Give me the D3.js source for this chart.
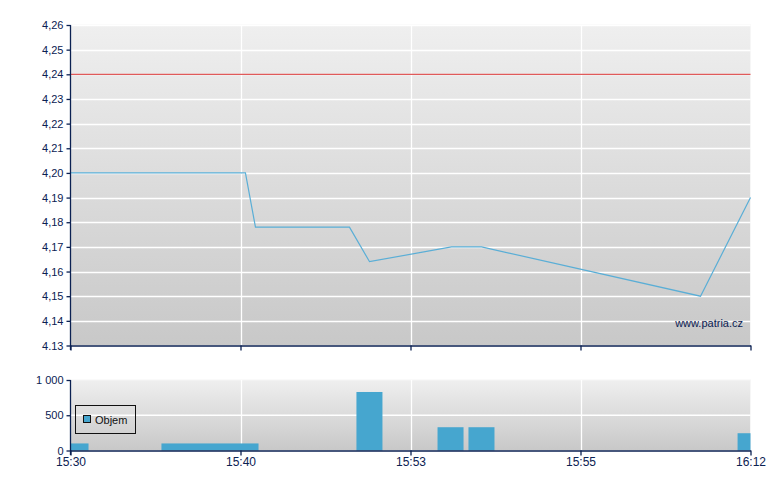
<!DOCTYPE html>
<html><head><meta charset="utf-8">
<script src="https://cdn.jsdelivr.net/npm/d3@7"></script>
<style>body{margin:0;background:#fff}svg{display:block;font-family:"Liberation Sans",Arial,sans-serif}</style>
</head><body><svg id="c" width="780" height="490"></svg>
<script>
// x positions are in "axis slot" units: tick i sits at i
const timeLabels = ["15:30","15:40","15:53","15:55","16:12"];
const priceTicks = [4.13,4.14,4.15,4.16,4.17,4.18,4.19,4.20,4.21,4.22,4.23,4.24,4.25,4.26];
const priceX = [0, 1.029, 1.088, 1.641, 1.759, 2.241, 2.418, 3.706, 4];
const priceY = [4.20, 4.20, 4.178, 4.178, 4.164, 4.17, 4.17, 4.15, 4.19];
const refPrice = 4.24;
const volStart = [0, 0.535, 1.682, 2.159, 2.341, 3.924];
const volEnd   = [0.106, 1.106, 1.835, 2.312, 2.494, 4];
const volume   = [100, 100, 830, 330, 330, 245];
const volTicks = [0, 500, 1000];

const svg = d3.select("#c");
const navy = "#0b2152";
const x = d3.scaleLinear().domain([0,4]).range([70.5,750.5]);
const y = d3.scaleLinear().domain([4.13,4.26]).range([345.5,25]);
const yv = d3.scaleLinear().domain([0,1000]).range([450.5,380]);

const defs = svg.append("defs");
const g1 = defs.append("linearGradient").attr("id","bg").attr("x1",0).attr("x2",0).attr("y1",0).attr("y2",1);
g1.append("stop").attr("offset","0%").attr("stop-color","#efefef");
g1.append("stop").attr("offset","100%").attr("stop-color","#c8c8c8");

function panel(top, bottom){
  svg.append("rect").attr("x",70.5).attr("y",top).attr("width",680).attr("height",bottom-top)
    .attr("fill","url(#bg)").attr("stroke","#f6f6f6").attr("stroke-width",1);
}
panel(25, 345.5);
panel(380, 450.5);

// grids
svg.append("g").selectAll("line").data(priceTicks).join("line")
  .attr("x1",70.5).attr("x2",750.5).attr("y1",d=>Math.round(y(d))+0.5).attr("y2",d=>Math.round(y(d))+0.5)
  .attr("stroke","#fff").attr("stroke-width",1.3);
svg.append("g").selectAll("line").data(d3.range(1,4)).join("line")
  .attr("x1",d=>Math.round(x(d))+0.5).attr("x2",d=>Math.round(x(d))+0.5).attr("y1",25).attr("y2",345)
  .attr("stroke","#fff").attr("stroke-width",1.3);
svg.append("g").selectAll("line").data([500]).join("line")
  .attr("x1",70.5).attr("x2",750.5).attr("y1",d=>yv(d)).attr("y2",d=>yv(d))
  .attr("stroke","#fff").attr("stroke-width",1.3);
svg.append("g").selectAll("line").data(d3.range(1,4)).join("line")
  .attr("x1",d=>Math.round(x(d))+0.5).attr("x2",d=>Math.round(x(d))+0.5).attr("y1",380).attr("y2",450)
  .attr("stroke","#fff").attr("stroke-width",1.3);

// reference line
svg.append("line").attr("x1",70.5).attr("x2",750.5).attr("y1",y(refPrice)).attr("y2",y(refPrice))
  .attr("stroke","#e05a5a").attr("stroke-width",1.3);

// price line
const pts = priceX.map((v,i)=>[v,priceY[i]]);
svg.append("path").datum(pts)
  .attr("d",d3.line().x(d=>x(d[0])).y(d=>y(d[1])))
  .attr("fill","none").attr("stroke","#5aaed6").attr("stroke-width",1.2);

// volume bars
svg.append("g").selectAll("rect").data(volume).join("rect")
  .attr("x",(d,i)=>x(volStart[i])).attr("width",(d,i)=>x(volEnd[i])-x(volStart[i]))
  .attr("y",d=>yv(d)).attr("height",d=>yv(0)-yv(d)).attr("fill","#46a6cf");

// axes
function styleAxis(g){
  g.selectAll("path,line").attr("stroke",navy).attr("stroke-width",1.3);
  g.selectAll("text").attr("fill",navy).style("font-size","11px").style("font-family",'"Liberation Sans",Arial,sans-serif');
}
const ay = svg.append("g").attr("transform","translate(70.5,0)")
  .call(d3.axisLeft(y).tickValues(priceTicks).tickSize(4).tickSizeOuter(0).tickPadding(3)
    .tickFormat(d=> d===4.13 ? "4.13" : d3.format(".2f")(d).replace(".",",")));
styleAxis(ay);
ay.select(".domain").attr("d","M0,25V350");
const ax1 = svg.append("g").attr("transform","translate(0,345.5)")
  .call(d3.axisBottom(x).tickValues(d3.range(0,5)).tickSize(5).tickSizeOuter(0).tickFormat(""));
styleAxis(ax1);

const ayv = svg.append("g").attr("transform","translate(70.5,0)")
  .call(d3.axisLeft(yv).tickValues(volTicks).tickSize(4).tickSizeOuter(0).tickPadding(3)
    .tickFormat(d=>d3.format(",")(d).replace(/,/g," ")));
styleAxis(ayv);
ayv.select(".domain").attr("d","M0,380V455");
const ax2 = svg.append("g").attr("transform","translate(0,450.5)")
  .call(d3.axisBottom(x).tickValues(d3.range(0,5)).tickSize(5).tickSizeOuter(0).tickPadding(2)
    .tickFormat((d,i)=>timeLabels[i]));
styleAxis(ax2);
ax2.selectAll("text").style("font-size","12px");

// legend
const lg = svg.append("g");
lg.append("rect").attr("x",75.5).attr("y",405.5).attr("width",60).attr("height",28)
  .attr("fill","none").attr("stroke","#111").attr("stroke-width",1);
lg.append("rect").attr("x",83.5).attr("y",415.5).attr("width",7).attr("height",7)
  .attr("fill","#46a6cf").attr("stroke","#111").attr("stroke-width",1);
lg.append("text").attr("x",95).attr("y",424).attr("fill","#111").style("font-size","11px").text("Objem");

// watermark
svg.append("text").attr("x",743).attr("y",327).attr("text-anchor","end")
  .attr("fill",navy).style("font-size","11px").text("www.patria.cz");
</script></body></html>
